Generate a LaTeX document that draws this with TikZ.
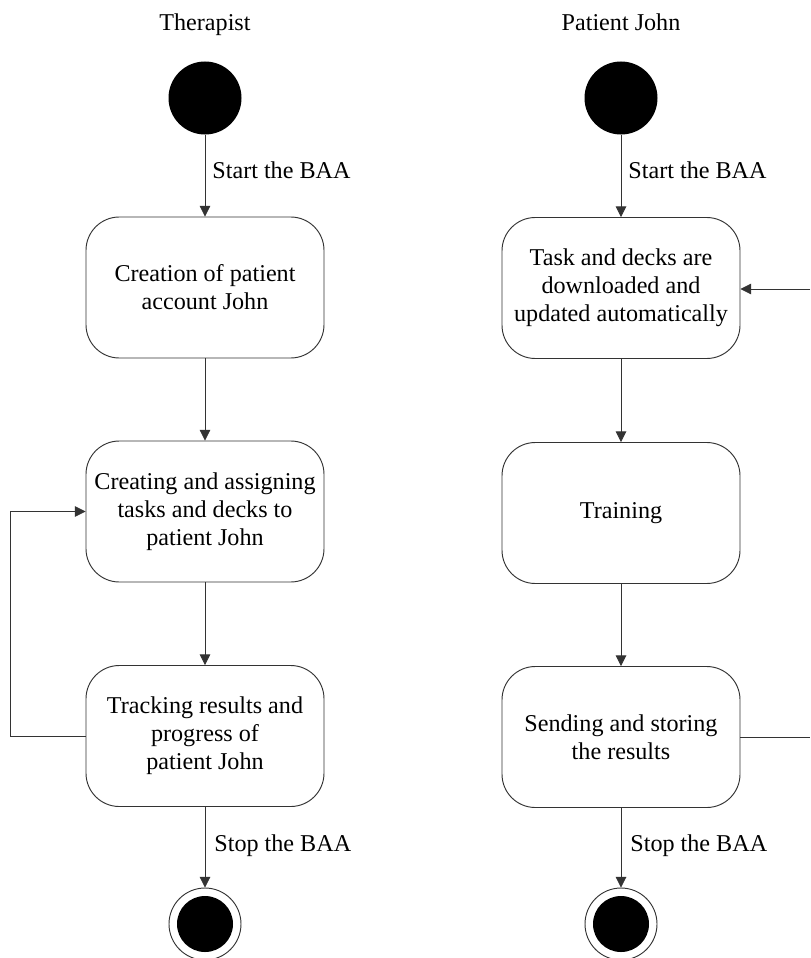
\documentclass[tikz,border=0pt]{standalone}
\usepackage{fontspec}
\setmainfont{Liberation Serif}
\usetikzlibrary{arrows.meta,shapes.misc}
\definecolor{linegray}{HTML}{333333}
\tikzset{
	state/.style={draw=linegray,line width=0.8pt,rectangle,rounded corners=1cm,minimum width=7.14cm,minimum height=4.23cm,align=center,inner sep=2pt},
	initstate/.style={circle,fill=black,minimum size=2.19cm,inner sep=0pt},
	finalstate/.style={circle,draw=linegray,line width=0.8pt,minimum size=2.16cm,inner sep=0pt},
	flow/.style={draw=linegray,line width=0.7pt,-{Triangle[length=9pt,width=9pt]}},
	lbl/.style={anchor=west,inner sep=0pt},
	lane/.style={anchor=base,inner sep=0pt}
}
\begin{document}
\begin{tikzpicture}[x=0.03cm,y=-0.03cm,font=\fontsize{20.6}{24}\selectfont]
\useasboundingbox (0,0) rectangle (810,958);

%therapist
\node[lane] (tTitle) at (205,31) {Therapist};
\node[initstate] (tStart) at (205,98) {};
\node[state] (tAccount) at (205,287.5) {Creation of patient\\account John};
\node[state] (tAssign) at (205,511.5) {Creating and assigning\\tasks and decks to\\patient John};
\node[state] (tTrack) at (205,736) {Tracking results and\\progress of\\patient John};
\node[finalstate] (tEnd) at (205,924) {};
\fill (tEnd.center) circle (0.84cm);
\coordinate (tLoop) at (10,736);

\draw[flow] (tStart) -- node[lbl,xshift=0.21cm,yshift=0.16cm]{Start the BAA} (tAccount);
\draw[flow] (tAccount) -- (tAssign);
\draw[flow] (tAssign) -- (tTrack);
\draw[flow] (tTrack) -- node[lbl,xshift=0.27cm,yshift=0.05cm]{Stop the BAA} (tEnd);
\draw[flow] (tTrack.west) -- (tLoop) |- (tAssign.west);

%patient
\node[lane] (pTitle) at (621,31) {Patient John};
\node[initstate] (pStart) at (621,98) {};
\node[state] (pDownload) at (621,288) {Task and decks are\\downloaded and\\updated automatically};
\node[state] (pTrain) at (621,513) {Training};
\node[state] (pSend) at (621,737) {Sending and storing\\the results};
\node[finalstate] (pEnd) at (621,924) {};
\fill (pEnd.center) circle (0.84cm);
\coordinate (pOutA) at (810,737);
\coordinate (pOutB) at (810,289);

\draw[flow] (pStart) -- node[lbl,xshift=0.21cm,yshift=0.16cm]{Start the BAA} (pDownload);
\draw[flow] (pDownload) -- (pTrain);
\draw[flow] (pTrain) -- (pSend);
\draw[flow] (pSend) -- node[lbl,xshift=0.27cm,yshift=0.05cm]{Stop the BAA} (pEnd);
\draw[linegray,line width=0.7pt] (pSend.east) -- (pOutA);
\draw[flow] (pOutB) -- (pDownload.east |- pOutB);

\end{tikzpicture}
\end{document}
